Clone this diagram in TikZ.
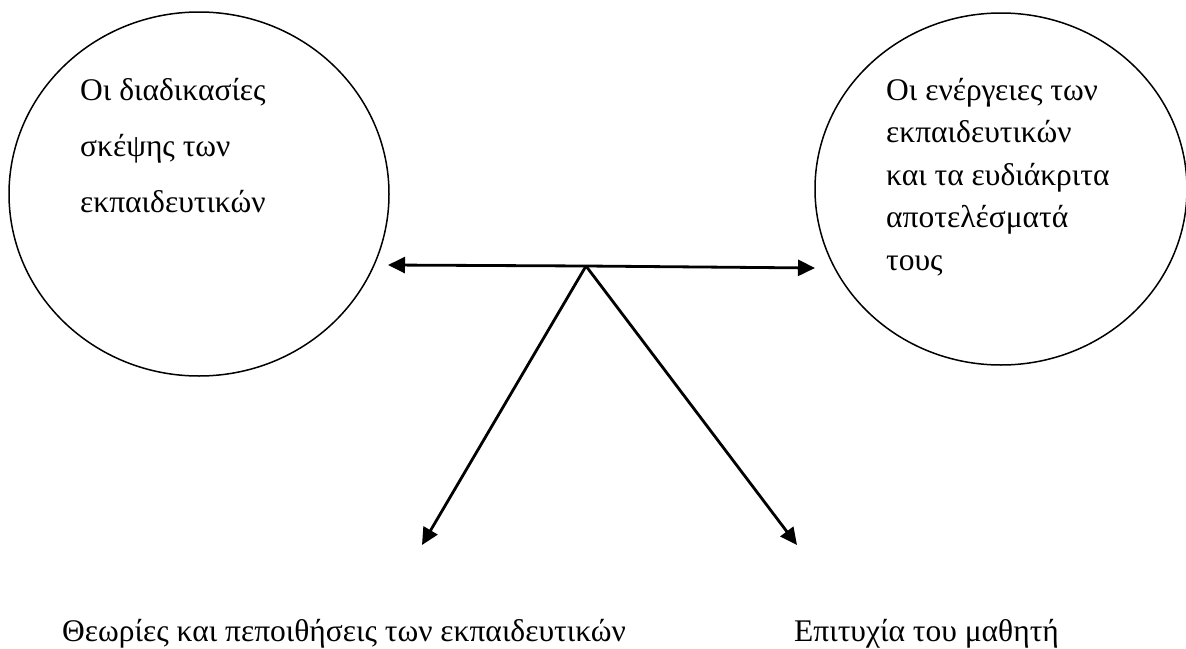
\documentclass[tikz,border=0pt]{standalone}
\usepackage{fontspec}
\setmainfont{Liberation Serif}
\usetikzlibrary{arrows.meta,shapes.geometric}
\begin{document}
\begin{tikzpicture}[x=1pt,y=-1pt,
  bubble/.style={draw, ellipse, line width=1.5pt, inner sep=0pt},
  lbl/.style={anchor=north west, inner sep=0pt, align=left},
  bottomlbl/.style={anchor=base west, inner sep=0pt, font=\fontsize{31.5}{37}\selectfont},
  conn/.style={line width=2.8pt, -{Triangle[length=17pt,width=16pt]}}]
\useasboundingbox (0,0) rectangle (1186,648);
\node[bubble, minimum width=380pt, minimum height=364pt] (L) at (199,194) {};
\node[bubble, minimum width=372pt, minimum height=352pt] (R) at (1001,189) {};
\node[lbl, font=\fontsize{31.5}{56}\selectfont] (Ltext) at (80,77.6)
  {Οι διαδικασίες\\σκέψης των\\εκπαιδευτικών};
\node[lbl, font=\fontsize{31.5}{42.5}\selectfont] (Rtext) at (886,77.6)
  {Οι ενέργειες των\\εκπαιδευτικών\\και τα ευδιάκριτα\\αποτελέσματά\\τους};
\node[bottomlbl] (B1) at (62,641)
  {Θεωρίες και πεποιθήσεις των εκπαιδευτικών};
\node[bottomlbl] (B2) at (794,641)
  {Επιτυχία του μαθητή};
\coordinate (J) at (586,266);
\coordinate (TL) at (388,265);
\coordinate (TR) at (815,268);
\coordinate (DL) at (422,545);
\coordinate (DR) at (797,545);
\draw[conn] (J) -- (TL);
\draw[conn] (J) -- (TR);
\draw[conn] (J) -- (DL);
\draw[conn] (J) -- (DR);
\end{tikzpicture}
\end{document}
